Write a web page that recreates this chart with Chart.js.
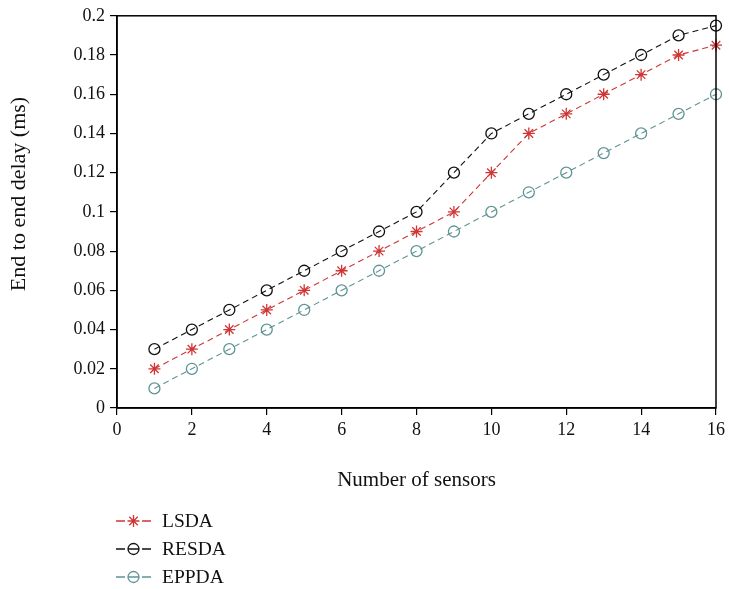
<!DOCTYPE html>
<html><head><meta charset="utf-8">
<script src="https://cdn.jsdelivr.net/npm/chart.js@4"></script>
<style>html,body{margin:0;padding:0;background:#fff}</style>
</head><body>
<canvas id="c" width="729" height="589"></canvas>
<script>
const sensors = [1,2,3,4,5,6,7,8,9,10,11,12,13,14,15,16];
const lsda  = [0.02,0.03,0.04,0.05,0.06,0.07,0.08,0.09,0.10,0.12,0.14,0.15,0.16,0.17,0.18,0.185];
const resda = [0.03,0.04,0.05,0.06,0.07,0.08,0.09,0.10,0.12,0.14,0.15,0.16,0.17,0.18,0.19,0.195];
const eppda = [0.01,0.02,0.03,0.04,0.05,0.06,0.07,0.08,0.09,0.10,0.11,0.12,0.13,0.14,0.15,0.16];
const seriesNames = ['LSDA','RESDA','EPPDA'];
const xTickValues = [0,2,4,6,8,10,12,14,16];
const yTickValues = [0,0.02,0.04,0.06,0.08,0.1,0.12,0.14,0.16,0.18,0.2];
const xTitle = 'Number of sensors';
const yTitle = 'End to end delay (ms)';

const FONT = "'Liberation Serif','DejaVu Serif',serif";
const colors = ['#d03535','#111111','#5f9494'];
const styles = ['star','circle','circle'];
const seriesData = [lsda,resda,eppda];

const datasets = seriesData.map((arr,i)=>({
  label: seriesNames[i],
  data: sensors.map((s,j)=>({x:s,y:arr[j]})),
  borderColor: colors[i],
  backgroundColor: 'rgba(0,0,0,0)',
  borderWidth: 1.1,
  borderDash: [6,4],
  pointStyle: styles[i],
  pointRadius: styles[i]==='star'?6:5.5,
  pointBorderWidth: 1.3,
  pointBorderColor: colors[i],
  pointBackgroundColor: 'rgba(0,0,0,0)',
  tension: 0,
  clip: false
}));

const framePlugin = {
  id:'frame',
  afterDraw(chart){
    const {ctx, chartArea:a} = chart;
    ctx.save();
    ctx.strokeStyle='#000'; ctx.lineWidth=1.5;
    ctx.strokeRect(a.left, a.top, a.right-a.left, a.bottom-a.top);
    ctx.restore();
    // y title
    ctx.save();
    ctx.translate(19,194);
    ctx.rotate(-Math.PI/2);
    ctx.fillStyle='#111';
    ctx.font="22px "+FONT;
    ctx.textAlign='center'; ctx.textBaseline='middle';
    ctx.fillText(yTitle,0,0);
    ctx.restore();
    // legend
    const ys=[521,549,577];
    ctx.save();
    chart.data.datasets.forEach((d,i)=>{
      const y=ys[i];
      ctx.strokeStyle=d.borderColor; ctx.lineWidth=1.3;
      ctx.beginPath();
      ctx.moveTo(116,y); ctx.lineTo(125,y);
      ctx.moveTo(142,y); ctx.lineTo(151,y);
      if(d.pointStyle==='circle'){ ctx.moveTo(128,y); ctx.lineTo(139,y); }
      ctx.stroke();
      const cx=133.5;
      ctx.beginPath();
      if(d.pointStyle==='circle'){
        ctx.arc(cx,y,5.5,0,Math.PI*2);
      } else {
        const r=6;
        for(let k=0;k<4;k++){
          const ang=k*Math.PI/4;
          ctx.moveTo(cx+r*Math.cos(ang), y+r*Math.sin(ang));
          ctx.lineTo(cx-r*Math.cos(ang), y-r*Math.sin(ang));
        }
      }
      ctx.stroke();
      ctx.fillStyle='#111';
      ctx.font="19.5px "+FONT;
      ctx.textAlign='left'; ctx.textBaseline='middle';
      ctx.fillText(d.label,162,y+1);
    });
    ctx.restore();
  }
};

new Chart(document.getElementById('c'),{
  type:'line',
  data:{datasets},
  options:{
    responsive:false,
    animation:false,
    layout:{padding:{top:14,right:11,left:0,bottom:0}},
    plugins:{legend:{display:false},tooltip:{enabled:false}},
    scales:{
      x:{
        type:'linear', min:0, max:16,
        afterBuildTicks(s){ s.ticks = xTickValues.map(v=>({value:v})); },
        afterFit(s){ s.height = 181; },
        grid:{drawOnChartArea:false, drawTicks:true, tickLength:7, color:'#000', lineWidth:1.2},
        border:{display:true,color:'#000',width:1.5},
        ticks:{color:'#111', font:{family:FONT,size:18}, padding:4, maxRotation:0,
               callback:v=>String(v)},
        title:{display:true,text:xTitle,color:'#111',font:{family:FONT,size:21},
               padding:{top:0,bottom:96}}
      },
      y:{
        type:'linear', min:0, max:0.2,
        afterBuildTicks(s){ s.ticks = yTickValues.map(v=>({value:v})); },
        afterFit(s){ s.width = 117; },
        grid:{drawOnChartArea:false, drawTicks:true, tickLength:7, color:'#000', lineWidth:1.2},
        border:{display:true,color:'#000',width:1.5},
        ticks:{color:'#111', font:{family:FONT,size:18}, padding:5,
               callback:v=>String(+(+v).toFixed(2))},
        title:{display:false}
      }
    }
  },
  plugins:[framePlugin]
});
</script>
</body></html>
